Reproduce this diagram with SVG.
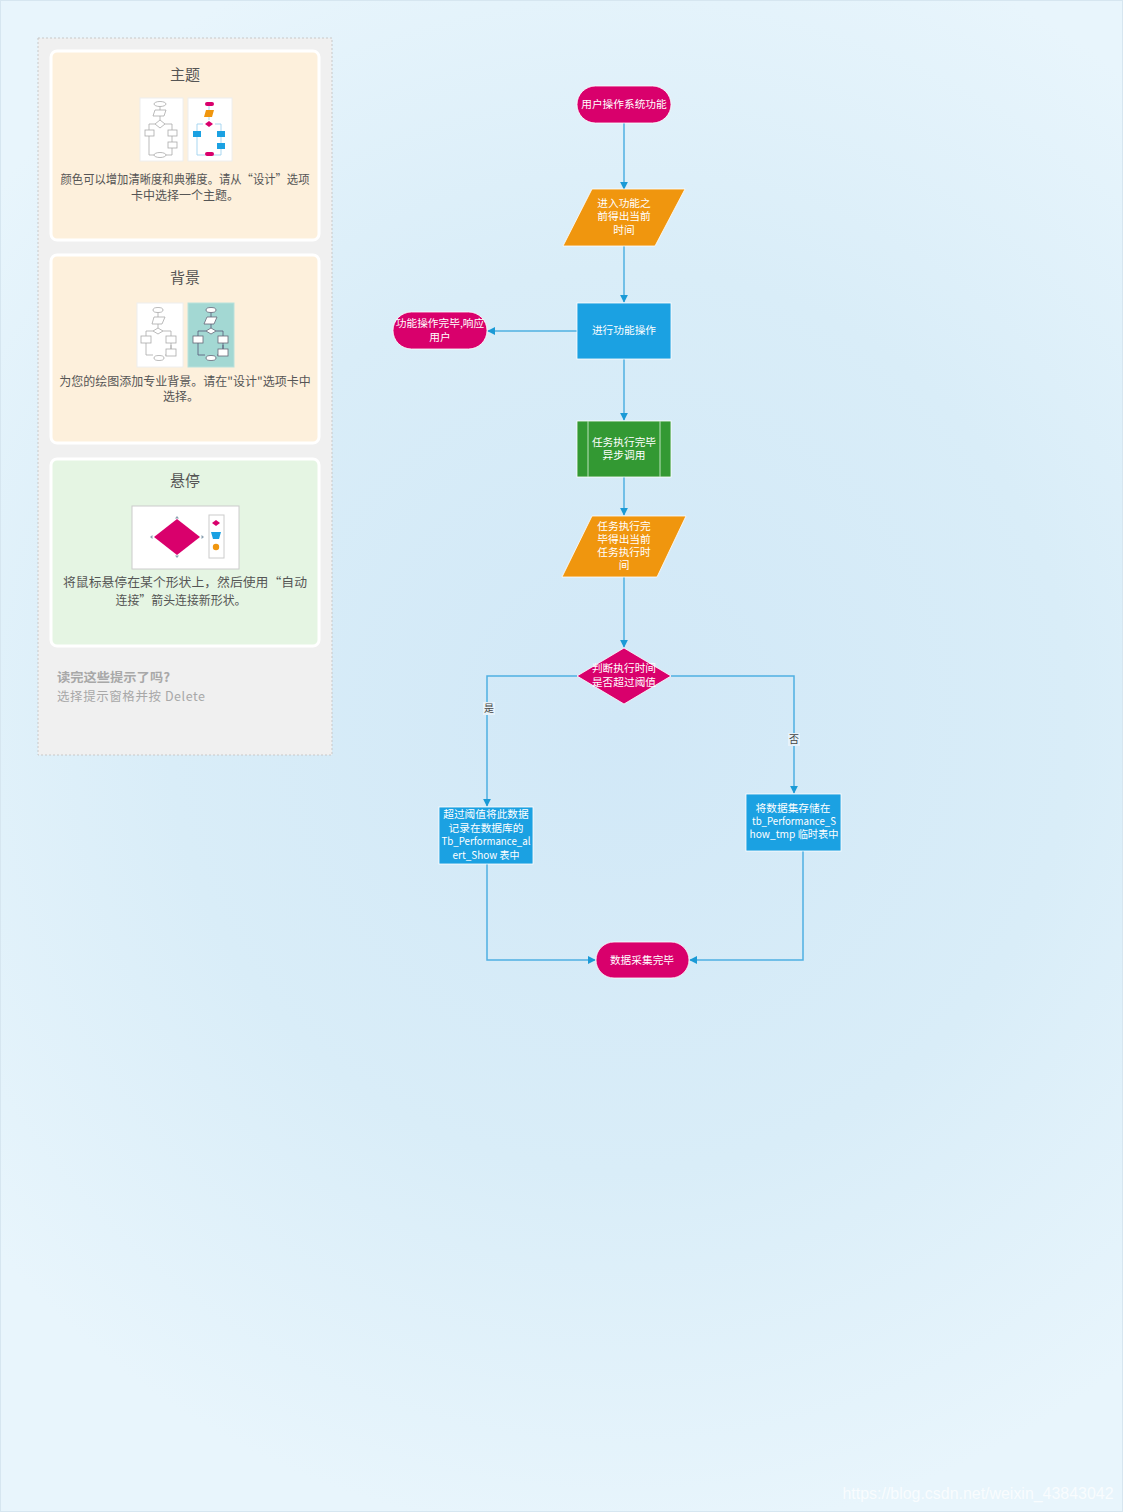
<svg xmlns="http://www.w3.org/2000/svg" width="1123" height="1512" viewBox="0 0 1123 1512">
<defs>
<radialGradient id="bg" gradientUnits="userSpaceOnUse" cx="620" cy="720" r="820">
<stop offset="0" stop-color="#d1e8f7"/>
<stop offset="0.55" stop-color="#d9edf8"/>
<stop offset="1" stop-color="#e8f5fc"/>
</radialGradient>
<marker id="arr" viewBox="0 0 10 10" refX="9" refY="5" markerWidth="8" markerHeight="8" markerUnits="userSpaceOnUse" orient="auto">
<path d="M0,0 L10,5 L0,10 z" fill="#1b9ad6"/>
</marker>
</defs>
<style>
.t{font-family:"Noto Sans CJK SC","Noto Sans",sans-serif;}
.nt{font-family:"Noto Sans CJK SC","Noto Sans",sans-serif;font-size:10.7px;fill:#ffffff;text-anchor:middle;}
.card{stroke:#ffffff;stroke-width:3;}
.ctitle{font-family:"Noto Sans CJK SC",sans-serif;font-size:15px;fill:#555;text-anchor:middle;}
.ctext{font-family:"Noto Sans CJK SC",sans-serif;font-size:12px;fill:#555;text-anchor:middle;}
.conn{fill:none;stroke:#4fb0e2;stroke-width:1.5;}
.lbl{font-family:"Noto Sans CJK SC",sans-serif;font-size:10px;fill:#444;text-anchor:middle;}
.mg{fill:#fff;stroke:#aaa;stroke-width:0.8;}
.ml{fill:none;stroke:#aaa;stroke-width:0.8;}
</style>
<rect x="0" y="0" width="1123" height="1512" fill="url(#bg)"/>
<rect x="0.5" y="0.5" width="1122" height="1511" fill="none" stroke="#d6e6f0"/>

<g id="tips-panel">
<rect x="38" y="38" width="294" height="717" fill="#f0f0f0" stroke="#c8c8c8" stroke-dasharray="2,2"/>

<g id="card-theme">
<rect class="card" x="51" y="51" width="268" height="189" rx="6" fill="#fdf0dc"/>
<text class="ctitle" x="185" y="80">主题</text>
<rect x="140" y="98" width="43" height="63" fill="#fff" stroke="#eee"/>
<g>
<path class="ml" d="M160,106 V120"/>
<ellipse class="mg" cx="160" cy="104" rx="6" ry="2.5"/>
<polygon class="mg" points="155,110 166,110 164,116 153,116"/>
<polygon class="mg" points="160,120 165,124 160,128 155,124"/>
<path class="ml" d="M155,124 H149 V130 M165,124 H172 V130"/>
<rect class="mg" x="145" y="130" width="9" height="6"/>
<rect class="mg" x="168" y="130" width="9" height="6"/>
<rect class="mg" x="168" y="142" width="9" height="6"/>
<path class="ml" d="M149,136 V155 H154 M172,136 V142 M172,148 V155 H166"/>
<ellipse class="mg" cx="160" cy="155" rx="6" ry="2.5"/>
</g>
<rect x="188" y="98" width="44" height="63" fill="#fff" stroke="#eee"/>
<g>
<path d="M209,106 V120 M203,124 H197 V155 H205 M215,124 H221 V155 H213" fill="none" stroke="#9fd2ef" stroke-width="0.9"/>
<rect x="205" y="102" width="9" height="4" rx="2" fill="#d9006c"/>
<polygon points="206,110 214,110 212,117 204,117" fill="#f0960e"/>
<polygon points="209,121 213,124 209,127 205,124" fill="#d9006c"/>
<rect x="193" y="131" width="8" height="6" fill="#1ba1e2"/>
<rect x="217" y="131" width="8" height="6" fill="#1ba1e2"/>
<rect x="217" y="143" width="8" height="6" fill="#1ba1e2"/>
<rect x="205" y="152" width="9" height="4" rx="2" fill="#d9006c"/>
</g>
<text class="ctext" x="185" y="184" textLength="249" lengthAdjust="spacingAndGlyphs">颜色可以增加清晰度和典雅度。请从“设计”选项</text>
<text class="ctext" x="185" y="200">卡中选择一个主题。</text>
</g>

<g id="card-background">
<rect class="card" x="51" y="255" width="268" height="188" rx="6" fill="#fdf0dc"/>
<text class="ctitle" x="185" y="283">背景</text>
<rect x="137" y="303" width="46" height="64" fill="#fff" stroke="#eee"/>
<g>
<path class="ml" d="M158,310 V318 M158,324 V328 M153,331 H146 V355 H153 M163,331 H171 V355 H165 M171,345 V349"/>
<ellipse class="mg" cx="158" cy="310" rx="5" ry="2.5"/>
<polygon class="mg" points="154,317 165,317 162,324 152,324"/>
<polygon class="mg" points="158,328 163,331 158,334 153,331"/>
<rect class="mg" x="141" y="336" width="10" height="7"/>
<rect class="mg" x="166" y="336" width="10" height="7"/>
<rect class="mg" x="166" y="349" width="10" height="7"/>
<ellipse class="mg" cx="159" cy="358" rx="5" ry="2.5"/>
</g>
<rect x="188" y="303" width="46" height="64" fill="#a3d8d3" stroke="#b9e1dc"/>
<g>
<path d="M211,310 V318 M211,324 V328 M206,331 H198 V355 H205 M216,331 H223 V355 H217 M223,345 V349" fill="none" stroke="#557" stroke-width="0.8"/>
<ellipse cx="211" cy="310" rx="5" ry="2.5" fill="#fff" stroke="#667"  stroke-width="0.8"/>
<polygon points="207,317 217,317 214,324 204,324" fill="#fff" stroke="#667" stroke-width="0.8"/>
<polygon points="211,328 216,331 211,334 206,331" fill="#fff" stroke="#667" stroke-width="0.8"/>
<rect x="193" y="336" width="10" height="7" fill="#fff" stroke="#667" stroke-width="0.8"/>
<rect x="218" y="336" width="10" height="7" fill="#fff" stroke="#667" stroke-width="0.8"/>
<rect x="218" y="349" width="10" height="7" fill="#fff" stroke="#667" stroke-width="0.8"/>
<ellipse cx="211" cy="358" rx="5" ry="2.5" fill="#fff" stroke="#667" stroke-width="0.8"/>
</g>
<text class="ctext" x="185" y="386">为您的绘图添加专业背景。请在"设计"选项卡中</text>
<text class="ctext" x="181" y="401">选择。</text>
</g>

<g id="card-hover">
<rect class="card" x="51" y="459" width="268" height="187" rx="6" fill="#e5f5e3"/>
<text class="ctitle" x="185" y="486">悬停</text>
<rect x="132" y="506" width="107" height="63" fill="#fff" stroke="#ccc"/>
<polygon points="177,519 200,537 177,555 154,537" fill="#d9006c"/>
<path d="M177,516 l-2,2.5 h4 z M177,558 l-2,-2.5 h4 z M150,537 l2.5,-2 v4 z M204,537 l-2.5,-2 v4 z" fill="#8aa0b0"/>
<rect x="209" y="515" width="15" height="43" fill="#fff" stroke="#ccc"/>
<polygon points="216,520 220,523 216,526 212,523" fill="#d9006c"/>
<polygon points="211,532 221,532 219,539 213,539" fill="#1ba1e2"/>
<circle cx="216" cy="547" r="3.2" fill="#f0960e"/>
<text class="ctext" x="185" y="587" style="font-size:12.5px" textLength="244" lengthAdjust="spacingAndGlyphs">将鼠标悬停在某个形状上，然后使用“自动</text>
<text class="ctext" x="181" y="605" style="font-size:12.5px" textLength="131" lengthAdjust="spacingAndGlyphs">连接”箭头连接新形状。</text>
</g>

<text class="t" x="57" y="682" font-size="12.5" font-weight="bold" fill="#a8a8a8" textLength="113" lengthAdjust="spacingAndGlyphs">读完这些提示了吗?</text>
<text class="t" x="57" y="701" font-size="12.5" fill="#a8a8a8" textLength="148" lengthAdjust="spacing">选择提示窗格并按 Delete</text>
</g>

<g id="connectors">
<path class="conn" d="M624,123 V189" marker-end="url(#arr)"/>
<path class="conn" d="M624,246 V302" marker-end="url(#arr)"/>
<path class="conn" d="M577,331 H488" marker-end="url(#arr)"/>
<path class="conn" d="M624,359 V420" marker-end="url(#arr)"/>
<path class="conn" d="M624,477 V515" marker-end="url(#arr)"/>
<path class="conn" d="M624,577 V647" marker-end="url(#arr)"/>
<path class="conn" d="M577,676 H487 V806" marker-end="url(#arr)"/>
<path class="conn" d="M671,676 H794 V793" marker-end="url(#arr)"/>
<path class="conn" d="M487,864 V960 H595" marker-end="url(#arr)"/>
<path class="conn" d="M803,851 V960 H690" marker-end="url(#arr)"/>
<rect x="483" y="702" width="12" height="13" fill="#e6f2fa"/>
<text class="lbl" x="489" y="712">是</text>
<rect x="788" y="733" width="12" height="13" fill="#e6f2fa"/>
<text class="lbl" x="794" y="743">否</text>
</g>

<g id="n-start">
<rect x="577" y="86" width="94" height="37" rx="18.5" fill="#d9006c" stroke="#fff" stroke-width="0.8"/>
<text class="nt" x="624" y="108">用户操作系统功能</text>
</g>
<g id="n-input1">
<polygon points="592,189 685,189 655,246 563,246" fill="#f0960e" stroke="#fff" stroke-width="0.8"/>
<text class="nt" x="624" y="207">进入功能之</text>
<text class="nt" x="624" y="220">前得出当前</text>
<text class="nt" x="624" y="234">时间</text>
</g>
<g id="n-operate">
<rect x="577" y="303" width="94" height="56" fill="#1ba1e2" stroke="#fff" stroke-width="0.8"/>
<text class="nt" x="624" y="334">进行功能操作</text>
</g>
<g id="n-respond">
<rect x="393" y="312" width="94" height="37" rx="18.5" fill="#d9006c" stroke="#fff" stroke-width="0.8"/>
<text class="nt" x="440" y="327">功能操作完毕,响应</text>
<text class="nt" x="440" y="341">用户</text>
</g>
<g id="n-async">
<rect x="577" y="421" width="94" height="56" fill="#339933" stroke="#fff" stroke-width="0.8"/>
<path d="M588,421 V477 M660,421 V477" stroke="#bfe3bf" stroke-width="1"/>
<text class="nt" x="624" y="446">任务执行完毕</text>
<text class="nt" x="624" y="459">异步调用</text>
</g>
<g id="n-input2">
<polygon points="592,516 686,516 657,577 562,577" fill="#f0960e" stroke="#fff" stroke-width="0.8"/>
<text class="nt" x="624" y="530">任务执行完</text>
<text class="nt" x="624" y="543">毕得出当前</text>
<text class="nt" x="624" y="556">任务执行时</text>
<text class="nt" x="624" y="569">间</text>
</g>
<g id="n-decision">
<polygon points="624,648 671,676 624,704 577,676" fill="#d9006c" stroke="#fff" stroke-width="0.8"/>
<text class="nt" x="624" y="672">判断执行时间</text>
<text class="nt" x="624" y="686">是否超过阈值</text>
</g>
<g id="n-alert">
<rect x="439" y="807" width="94" height="57" fill="#1ba1e2" stroke="#fff" stroke-width="0.8"/>
<text class="nt" x="486" y="818">超过阈值将此数据</text>
<text class="nt" x="486" y="832">记录在数据库的</text>
<text class="nt" x="486" y="845" textLength="89" lengthAdjust="spacingAndGlyphs">Tb_Performance_al</text>
<text class="nt" x="486" y="859" textLength="67" lengthAdjust="spacingAndGlyphs">ert_Show 表中</text>
</g>
<g id="n-tmp">
<rect x="746" y="794" width="95" height="57" fill="#1ba1e2" stroke="#fff" stroke-width="0.8"/>
<text class="nt" x="793" y="812">将数据集存储在</text>
<text class="nt" x="794" y="825" textLength="84" lengthAdjust="spacingAndGlyphs">tb_Performance_S</text>
<text class="nt" x="794" y="838" textLength="89" lengthAdjust="spacingAndGlyphs">how_tmp 临时表中</text>
</g>
<g id="n-end">
<rect x="596" y="942" width="93" height="36" rx="18" fill="#d9006c" stroke="#fff" stroke-width="0.8"/>
<text class="nt" x="642" y="964">数据采集完毕</text>
</g>

<text x="978" y="1499" font-family="Liberation Sans, Arial, sans-serif" font-size="16" fill="#ffffff" fill-opacity="0.75" text-anchor="middle" textLength="271" lengthAdjust="spacingAndGlyphs">https://blog.csdn.net/weixin_43843042</text>
</svg>
